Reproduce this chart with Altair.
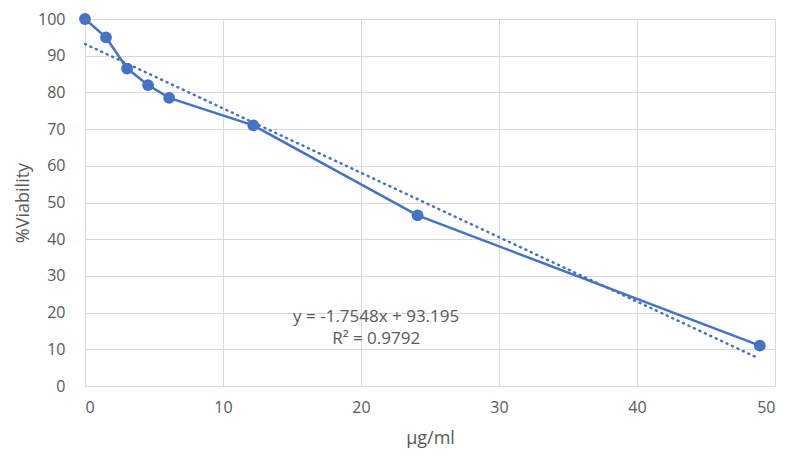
import altair as alt
import pandas as pd

conc = [0, 1.52, 3.05, 4.57, 6.1, 12.2, 24.1, 48.9]
viability = [100, 95, 86.5, 82, 78.5, 71, 46.5, 11]
trend_x = [0, 48.8]
slope = -1.7548
intercept = 93.195
eq_lines = ["y = -1.7548x + 93.195", "R² = 0.9792"]
eq_x = [21.1, 21.1]
eq_y = [18.8, 12.9]
x_ticks = [0, 10, 20, 30, 40, 50]
y_ticks = [0, 10, 20, 30, 40, 50, 60, 70, 80, 90, 100]

df = pd.DataFrame({"x": conc, "y": viability})
tdf = pd.DataFrame({"x": trend_x, "y": [intercept + slope * v for v in trend_x]})
edf = pd.DataFrame({"x": eq_x, "y": eq_y, "t": eq_lines})

color = "#4472C4"
font = "Open Sans"

xs = alt.Scale(domain=[0, 50], nice=False, zero=False)
ys = alt.Scale(domain=[0, 100], nice=False)

xax = alt.Axis(values=x_ticks, title="μg/ml", grid=True, ticks=False,
               domain=False, labelPadding=13, titlePadding=14, labelFontSize=16,
               titleFontSize=18, labelColor="#595959", titleColor="#595959",
               labelFont=font, titleFont=font, titleFontWeight="normal",
               labelOverlap=False, tickCount=6)
yax = alt.Axis(values=y_ticks, title="%Viability", grid=True, ticks=False,
               domain=False, labelPadding=20, titlePadding=5, labelFontSize=16,
               titleFontSize=18, labelColor="#595959", titleColor="#595959",
               labelFont=font, titleFont=font, titleFontWeight="normal",
               labelOverlap=False, tickCount=11)

X = alt.X("x:Q", scale=xs, axis=xax)
Y = alt.Y("y:Q", scale=ys, axis=yax)

line = alt.Chart(df).mark_line(color=color, strokeWidth=2.5).encode(x=X, y=Y)
pts = alt.Chart(df).mark_circle(color=color, size=140, opacity=1).encode(x=X, y=Y)
trend = alt.Chart(tdf).mark_line(color=color, strokeWidth=2.5, strokeDash=[1, 5],
                                 strokeCap="round").encode(x=X, y=Y)
txt = alt.Chart(edf).mark_text(font=font, fontSize=17, color="#595959", align="center",
                               baseline="middle").encode(x=X, y=Y, text="t:N")

chart = alt.layer(line, trend, pts, txt).properties(
    width=690, height=367,
    autosize=alt.AutoSizeParams(type="none"),
    padding={"left": 77, "top": 11, "right": 5, "bottom": 70},
).configure_view(stroke=None).configure_axis(gridColor="#d9d9d9", gridWidth=1)

chart.save("out.html", embed_options={"renderer": "svg", "actions": False})
